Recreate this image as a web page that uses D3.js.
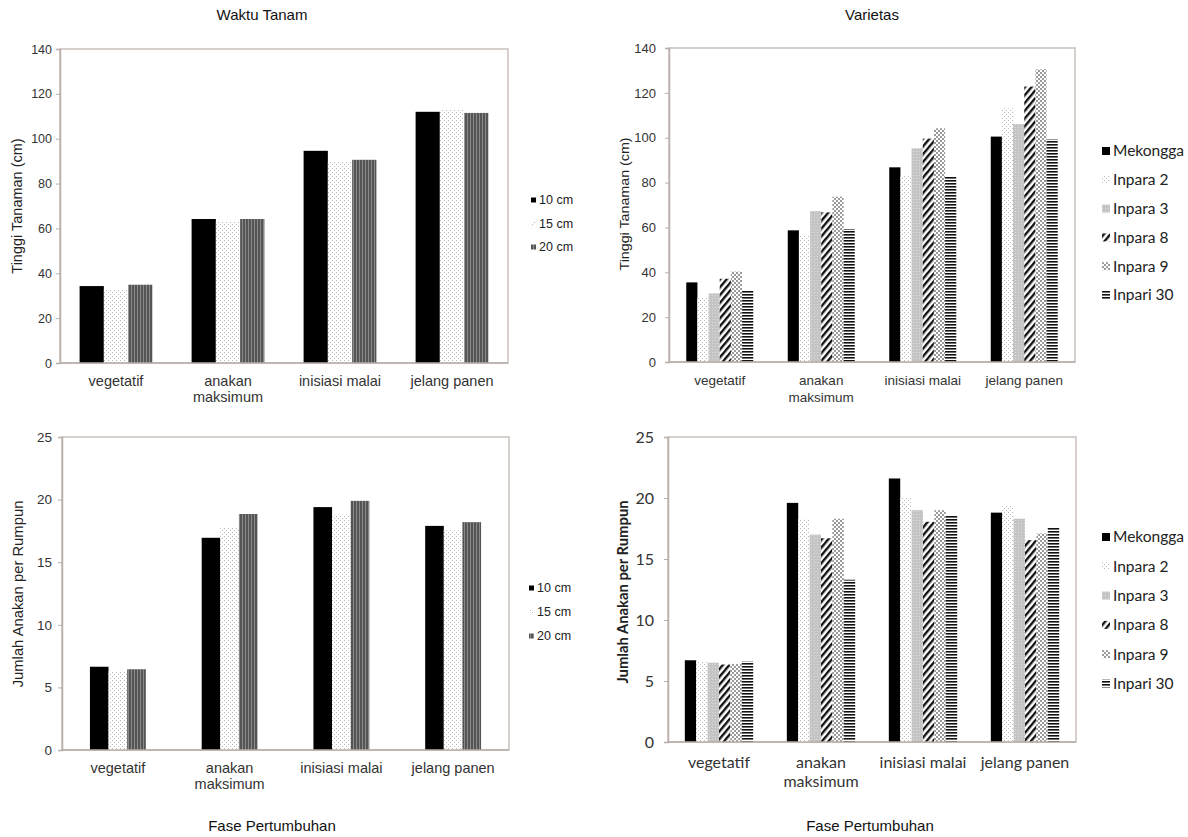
<!DOCTYPE html>
<html><head><meta charset="utf-8">
<script src="https://cdn.jsdelivr.net/npm/d3@7"></script>
<style>body{margin:0;background:#fff}svg{display:block}</style>
</head><body>
<svg id="c" width="1188" height="837"></svg>
<script>
// ---- data ----
const phases = ["vegetatif", "anakan maksimum", "inisiasi malai", "jelang panen"];
const phaseLines = [["vegetatif"], ["anakan", "maksimum"], ["inisiasi malai"], ["jelang panen"]];
const spacings = ["10 cm", "15 cm", "20 cm"];
const varieties = ["Mekongga", "Inpara 2", "Inpara 3", "Inpara 8", "Inpara 9", "Inpari 30"];
const heightTicks = [0, 20, 40, 60, 80, 100, 120, 140];
const tillerTicks = [0, 5, 10, 15, 20, 25];

// Tinggi tanaman by spacing
const height10cm = [34.3, 64.2, 94.6, 112.0];
const height15cm = [32.8, 63.0, 89.7, 113.2];
const height20cm = [34.9, 64.2, 90.6, 111.5];
// Tinggi tanaman by variety
const heightMekongga = [35.5, 58.7, 86.8, 100.5];
const heightInpara2 = [28.7, 56.6, 82.9, 113.1];
const heightInpara3 = [30.6, 67.3, 95.3, 106.1];
const heightInpara8 = [37.1, 66.7, 99.6, 122.8];
const heightInpara9 = [40.3, 73.7, 104.2, 130.5];
const heightInpari30 = [31.8, 59.3, 82.9, 99.3];
// Jumlah anakan by spacing
const tiller10cm = [6.65, 16.95, 19.4, 17.9];
const tiller15cm = [6.3, 17.8, 18.8, 17.55];
const tiller20cm = [6.45, 18.85, 19.9, 18.2];
// Jumlah anakan by variety
const tillerMekongga = [6.7, 19.6, 21.6, 18.8];
const tillerInpara2 = [6.6, 18.3, 20.0, 19.35];
const tillerInpara3 = [6.5, 17.0, 19.0, 18.3];
const tillerInpara8 = [6.35, 16.7, 18.05, 16.55];
const tillerInpara9 = [6.4, 18.3, 19.0, 17.1];
const tillerInpari30 = [6.6, 13.3, 18.6, 17.6];

// ---- patterns ----
const svg = d3.select("#c");
const defs = svg.append("defs");
function pat(id, w, h, bg, draw, transform) {
  const p = defs.append("pattern").attr("id", id).attr("patternUnits", "userSpaceOnUse")
    .attr("width", w).attr("height", h);
  if (transform) p.attr("patternTransform", transform);
  p.append("rect").attr("width", w).attr("height", h).attr("fill", bg);
  draw(p);
}
pat("pDots", 4, 4, "#fff", p => {
  p.append("rect").attr("x", 0).attr("y", 0).attr("width", 1).attr("height", 1).attr("fill", "#b8b8b8");
  p.append("rect").attr("x", 2).attr("y", 2).attr("width", 1).attr("height", 1).attr("fill", "#b8b8b8");
});
pat("pVert", 3, 4, "#555", p => {
  p.append("rect").attr("x", 2).attr("y", 0).attr("width", 1).attr("height", 4).attr("fill", "#8a8a8a");
});
pat("pGrey", 3, 3, "#c4c4c4", p => {
  p.append("rect").attr("x", 1).attr("y", 1).attr("width", 1).attr("height", 1).attr("fill", "#dcdcdc");
});
pat("pDiag", 5, 5, "#fff", p => {
  p.append("rect").attr("x", 0).attr("y", 0).attr("width", 2.4).attr("height", 5).attr("fill", "#111");
}, "rotate(40)");
pat("pBigDots", 4, 4, "#fff", p => {
  p.append("rect").attr("x", 0).attr("y", 0).attr("width", 2).attr("height", 2).attr("fill", "#9a9a9a");
  p.append("rect").attr("x", 2).attr("y", 2).attr("width", 2).attr("height", 2).attr("fill", "#9a9a9a");
});
pat("pHoriz", 4, 3, "#fff", p => {
  p.append("rect").attr("x", 0).attr("y", 0).attr("width", 4).attr("height", 1.6).attr("fill", "#111");
});

const ARIAL = "'Liberation Sans', Arial, sans-serif";
const CALI = "Lato, 'Open Sans', sans-serif";

function drawChart(cfg) {
  const g = svg.append("g");
  const x0 = d3.scaleBand().domain(phases).range([cfg.x1, cfg.x2]).paddingInner(cfg.pad).paddingOuter(cfg.pad / 2);
  const x1 = d3.scaleBand().domain(cfg.series.map(s => s.name)).range([0, x0.bandwidth()]);
  const y = d3.scaleLinear().domain([0, cfg.max]).range([cfg.yBase, cfg.yTop]);

  // frame
  g.append("rect").attr("x", cfg.x1).attr("y", cfg.yTop).attr("width", cfg.x2 - cfg.x1).attr("height", cfg.yBase - cfg.yTop)
    .attr("fill", "none").attr("stroke", "#c9c0bb").attr("stroke-width", 1.5);

  // bars
  cfg.series.forEach(s => {
    g.append("g").selectAll("rect").data(s.values).join("rect")
      .attr("x", (d, i) => x0(phases[i]) + x1(s.name))
      .attr("y", d => y(d))
      .attr("width", x1.bandwidth())
      .attr("height", d => y(0) - y(d))
      .attr("fill", s.fill);
  });

  // y axis
  const ya = g.append("g").attr("transform", `translate(${cfg.x1},0)`)
    .call(d3.axisLeft(y).tickValues(cfg.ticks).tickSize(4).tickPadding(cfg.tickPad));
  ya.select(".domain").attr("stroke", "#b9aea9").attr("stroke-width", 1.5);
  ya.selectAll(".tick line").attr("stroke", "#b9aea9");
  ya.selectAll("text").attr("font-family", cfg.tickFont).attr("font-size", cfg.tickSize).attr("fill", "#333");

  // bottom axis line
  g.append("line").attr("x1", cfg.x1).attr("x2", cfg.x2).attr("y1", cfg.yBase).attr("y2", cfg.yBase)
    .attr("stroke", "#b9aea9").attr("stroke-width", 1.5);

  // x labels
  phases.forEach((p, i) => {
    const t = g.append("text").attr("x", x0(p) + x0.bandwidth() / 2).attr("y", cfg.labY)
      .attr("text-anchor", "middle").attr("font-family", cfg.labFont).attr("font-size", cfg.labSize).attr("fill", "#333");
    phaseLines[i].forEach((ln, j) => t.append("tspan").attr("x", x0(p) + x0.bandwidth() / 2).attr("dy", j ? cfg.labLH : 0).text(ln));
  });

  // y title
  const yt = g.append("text").attr("transform", `translate(${cfg.yLabX},${cfg.yLabY}) rotate(-90)`)
    .attr("text-anchor", "middle").attr("font-family", cfg.yLabFont).attr("font-size", cfg.yLabSize)
    .attr("font-weight", cfg.yLabWeight || "normal").attr("fill", "#222").text(cfg.yLab);
  if (cfg.yLabLen) yt.attr("textLength", cfg.yLabLen).attr("lengthAdjust", "spacingAndGlyphs");

  // legend
  cfg.series.forEach((s, i) => {
    const ly = cfg.legY + i * cfg.legStep;
    g.append("rect").attr("x", cfg.legX).attr("y", ly - cfg.legSq / 2).attr("width", cfg.legSq).attr("height", cfg.legSq)
      .attr("fill", s.fill);
    g.append("text").attr("x", cfg.legX + cfg.legSq + 3).attr("y", ly).attr("dy", "0.35em")
      .attr("font-family", cfg.legFont).attr("font-size", cfg.legSize).attr("fill", "#222").text(s.name);
  });
}

const spFill = ["#000", "url(#pDots)", "url(#pVert)"];
const varFill = ["#000", "url(#pDots)", "url(#pGrey)", "url(#pDiag)", "url(#pBigDots)", "url(#pHoriz)"];

drawChart({
  x1: 60, x2: 508, yTop: 49, yBase: 363, max: 140, ticks: heightTicks, pad: 0.35, tickPad: 4,
  tickFont: ARIAL, tickSize: 12.5, labFont: ARIAL, labSize: 14.5, labY: 386, labLH: 16,
  yLab: "Tinggi Tanaman (cm)", yLabX: 22, yLabY: 206, yLabFont: ARIAL, yLabSize: 14.5,
  legX: 531, legY: 200, legStep: 23.5, legSq: 5, legFont: ARIAL, legSize: 12.5,
  series: [
    { name: spacings[0], values: height10cm, fill: spFill[0] },
    { name: spacings[1], values: height15cm, fill: spFill[1] },
    { name: spacings[2], values: height20cm, fill: spFill[2] }]
});

drawChart({
  x1: 669, x2: 1075, yTop: 48, yBase: 362, max: 140, ticks: heightTicks, pad: 0.34, tickPad: 9,
  tickFont: ARIAL, tickSize: 13, labFont: ARIAL, labSize: 13.5, labY: 385, labLH: 17,
  yLab: "Tinggi Tanaman (cm)", yLabX: 629, yLabY: 204, yLabFont: ARIAL, yLabSize: 12.5, yLabLen: 133,
  legX: 1102, legY: 151, legStep: 28.8, legSq: 8, legFont: CALI, legSize: 15.5,
  series: varieties.map((v, i) => ({ name: v, values: [heightMekongga, heightInpara2, heightInpara3, heightInpara8, heightInpara9, heightInpari30][i], fill: varFill[i] }))
});

drawChart({
  x1: 62, x2: 509, yTop: 437, yBase: 750, max: 25, ticks: tillerTicks, pad: 0.5, tickPad: 6,
  tickFont: ARIAL, tickSize: 13.5, labFont: ARIAL, labSize: 14.5, labY: 773, labLH: 16,
  yLab: "Jumlah Anakan per Rumpun", yLabX: 23, yLabY: 594, yLabFont: ARIAL, yLabSize: 14.8,
  legX: 529, legY: 588, legStep: 24, legSq: 5, legFont: ARIAL, legSize: 12.5,
  series: [
    { name: spacings[0], values: tiller10cm, fill: spFill[0] },
    { name: spacings[1], values: tiller15cm, fill: spFill[1] },
    { name: spacings[2], values: tiller20cm, fill: spFill[2] }]
});

drawChart({
  x1: 668, x2: 1076, yTop: 437, yBase: 742, max: 25, ticks: tillerTicks, pad: 0.33, tickPad: 10,
  tickFont: CALI, tickSize: 16, labFont: CALI, labSize: 16, labY: 768, labLH: 19,
  yLab: "Jumlah Anakan per Rumpun", yLabX: 628, yLabY: 592, yLabFont: CALI, yLabSize: 14.8, yLabWeight: "bold",
  legX: 1102, legY: 537, legStep: 29.3, legSq: 8, legFont: CALI, legSize: 15.5,
  series: varieties.map((v, i) => ({ name: v, values: [tillerMekongga, tillerInpara2, tillerInpara3, tillerInpara8, tillerInpara9, tillerInpari30][i], fill: varFill[i] }))
});

// titles
const titles = [["Waktu Tanam", 262, 20], ["Varietas", 872, 20], ["Fase Pertumbuhan", 272, 831], ["Fase Pertumbuhan", 870, 831]];
titles.forEach(t => svg.append("text").attr("x", t[1]).attr("y", t[2]).attr("text-anchor", "middle")
  .attr("font-family", ARIAL).attr("font-size", 15).attr("fill", "#111").text(t[0]));
</script>
</body></html>
